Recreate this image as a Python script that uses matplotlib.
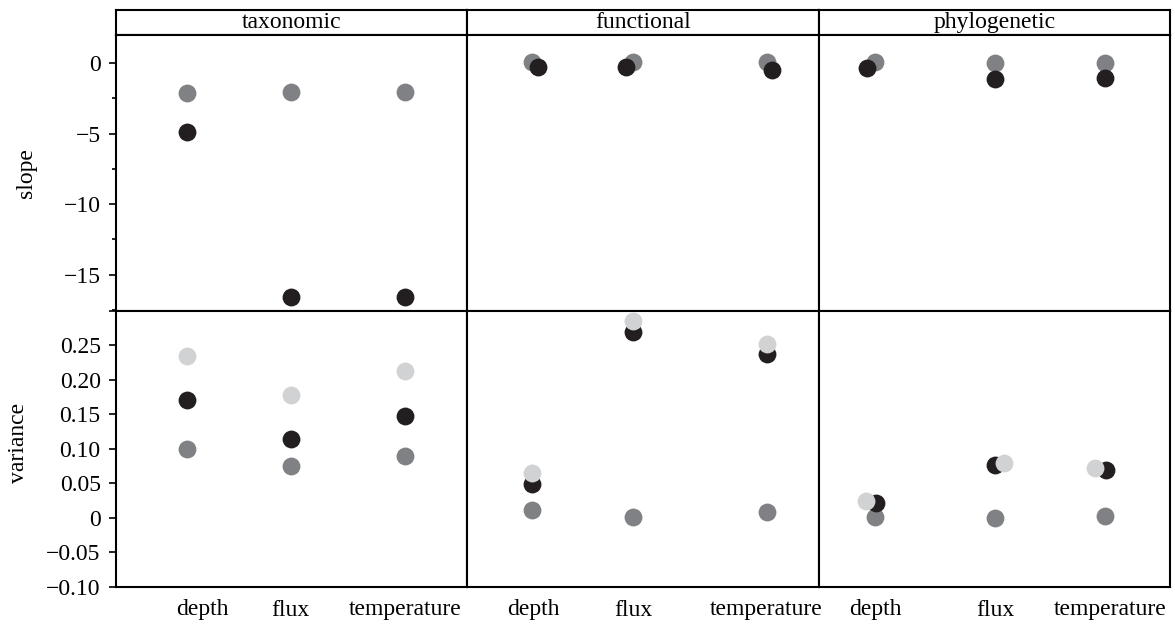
import numpy as np
import matplotlib
matplotlib.use("Agg")
import matplotlib.pyplot as plt
from matplotlib.ticker import FixedLocator, FixedFormatter

plt.rcParams.update({
    "font.family": ["Liberation Serif", "DejaVu Serif"],
    "font.size": 17,
    "axes.linewidth": 1.5,
})

# ---- DATA ----
panels = ["taxonomic", "functional", "phylogenetic"]
categories = ["depth", "flux", "temperature"]

# slope (grey and black series only)
slope_grey = {
    "taxonomic":    [-2.13, -2.06, -2.06],
    "functional":   [0.05, 0.07, 0.05],
    "phylogenetic": [0.05, 0.02, 0.0],
}
slope_black = {
    "taxonomic":    [-4.91, -16.56, -16.6],
    "functional":   [-0.24, -0.26, -0.48],
    "phylogenetic": [-0.36, -1.10, -1.05],
}

# variance (grey, black and light series)
var_grey = {
    "taxonomic":    [0.099, 0.075, 0.090],
    "functional":   [0.011, 0.0015, 0.008],
    "phylogenetic": [0.0015, 0.0, 0.0025],
}
var_black = {
    "taxonomic":    [0.170, 0.114, 0.148],
    "functional":   [0.0485, 0.2695, 0.2365],
    "phylogenetic": [0.021, 0.0766, 0.0693],
}
var_light = {
    "taxonomic":    [0.234, 0.178, 0.213],
    "functional":   [0.0645, 0.285, 0.251],
    "phylogenetic": [0.0243, 0.079, 0.0727],
}

# category positions inside each panel (axes fraction)
cat_pos = {
    "taxonomic":    [0.202, 0.498, 0.824],
    "functional":   [0.184, 0.472, 0.852],
    "phylogenetic": [0.160, 0.502, 0.815],
}
label_pos = {
    "taxonomic":    [0.245, 0.495, 0.823],
    "functional":   [0.188, 0.474, 0.850],
    "phylogenetic": [0.160, 0.503, 0.829],
}
# small horizontal dodge where points overlap
slope_black_dodge = {
    "taxonomic":    [0, 0, 0],
    "functional":   [0.017, -0.020, 0.014],
    "phylogenetic": [-0.023, 0, 0],
}
var_black_dodge = {
    "taxonomic":    [0, 0, 0],
    "functional":   [0, 0, 0],
    "phylogenetic": [0.003, 0, 0.003],
}
var_light_dodge = {
    "taxonomic":    [0, 0, 0],
    "functional":   [0, 0, 0],
    "phylogenetic": [-0.026, 0.026, -0.028],
}

BLACK = "#231f20"
GREY = "#808184"
LIGHT = "#d1d2d4"
MS = 165

# ---- LAYOUT (pixel based) ----
W, H = 1175, 624
fig = plt.figure(figsize=(W / 100, H / 100), dpi=100)

left, right = 116, 1170
pw = (right - left) / 3
strip_top, strip_bot = 10, 35
mid = 310.5
bottom = 587


def frac(x0, y0, x1, y1):
    return [x0 / W, 1 - y1 / H, (x1 - x0) / W, (y1 - y0) / H]


for j, p in enumerate(panels):
    x0 = left + j * pw
    x1 = x0 + pw

    # strip
    sax = fig.add_axes(frac(x0, strip_top, x1, strip_bot))
    sax.set_xticks([])
    sax.set_yticks([])
    sax.text(0.5, 0.5, p, ha="center", va="center", transform=sax.transAxes)

    pos = np.array(cat_pos[p])

    # slope panel
    ax1 = fig.add_axes(frac(x0, strip_bot, x1, mid))
    ax1.scatter(pos, slope_grey[p], s=MS, color=GREY, linewidths=0, zorder=2)
    ax1.scatter(pos + np.array(slope_black_dodge[p]), slope_black[p],
                s=MS, color=BLACK, linewidths=0, zorder=3)
    ax1.set_xlim(0, 1)
    ax1.set_ylim(-17.55, 2.0)
    ax1.set_xticks([])

    # variance panel
    ax2 = fig.add_axes(frac(x0, mid, x1, bottom))
    ax2.scatter(pos, var_grey[p], s=MS, color=GREY, linewidths=0, zorder=2)
    ax2.scatter(pos + np.array(var_black_dodge[p]), var_black[p],
                s=MS, color=BLACK, linewidths=0, zorder=3)
    ax2.scatter(pos + np.array(var_light_dodge[p]), var_light[p],
                s=MS, color=LIGHT, linewidths=0, zorder=4)
    ax2.set_xlim(0, 1)
    ax2.set_ylim(-0.10, 0.30)
    ax2.set_xticks(label_pos[p])
    ax2.set_xticklabels(categories)
    ax2.tick_params(axis="x", length=0, pad=9)

    if j == 0:
        ax1.yaxis.set_major_locator(FixedLocator([-15, -10, -5, 0]))
        ax1.yaxis.set_minor_locator(FixedLocator([-17.5, -12.5, -7.5, -2.5]))
        ax1.tick_params(axis="y", which="major", length=5, width=1.2, pad=6)
        ax1.tick_params(axis="y", which="minor", length=3, width=1.2)
        ax1.set_ylabel("slope")
        ax1.yaxis.set_label_coords(-0.225, 0.5)

        vt = [-0.10, -0.05, 0, 0.05, 0.10, 0.15, 0.20, 0.25, 0.30]
        vl = ["\u22120.10", "\u22120.05", "0", "0.05", "0.10", "0.15",
              "0.20", "0.25", ""]
        ax2.yaxis.set_major_locator(FixedLocator(vt))
        ax2.yaxis.set_major_formatter(FixedFormatter(vl))
        ax2.tick_params(axis="y", length=5, width=1.2, pad=6)
        ax2.set_ylabel("variance")
        ax2.yaxis.set_label_coords(-0.248, 0.52)
    else:
        ax1.set_yticks([])
        ax2.set_yticks([])

plt.savefig("out.png", dpi=100)
plt.close()
